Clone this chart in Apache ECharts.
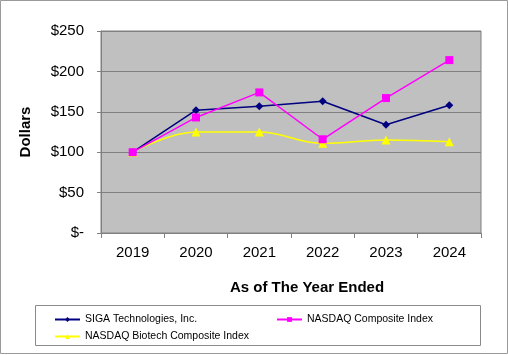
<!DOCTYPE html>
<html><head><meta charset="utf-8">
<script src="https://cdn.jsdelivr.net/npm/echarts@6/dist/echarts.min.js"></script>
<style>html,body{margin:0;padding:0;background:#fff}#c{width:508px;height:355px}</style>
</head><body><div id="c"></div>
<script>
const categories = ['2019','2020','2021','2022','2023','2024'];
const sigaValues = [100, 152, 157, 163, 134, 158];
const nasdaqValues = [100, 143, 174, 116, 167, 214];
const biotechValues = [100, 125, 125, 111, 115, 113];
const yTickLabels = {0:'$-',50:'$50',100:'$100',150:'$150',200:'$200',250:'$250'};
const seriesNames = ['SIGA Technologies, Inc.','NASDAQ Composite Index','NASDAQ Biotech Composite Index'];

const chart = echarts.init(document.getElementById('c'), null, {renderer:'canvas'});
const font = '"Liberation Sans", Arial, sans-serif';
chart.setOption({
  animation:false,
  backgroundColor:'#fff',
  graphic:[
    {type:'rect', shape:{x:0.5,y:0.5,width:507,height:353}, style:{fill:'none', stroke:'#9a9a9a', lineWidth:1}, silent:true},
    {type:'rect', shape:{x:35.5,y:305.5,width:445,height:40}, style:{fill:'#fff', stroke:'#8a8a8a', lineWidth:1}, silent:true, z:-1}
  ],
  grid:{left:101, right:27, top:31, bottom:122, show:true, backgroundColor:'#c0c0c0', borderColor:'#808080', borderWidth:1},
  legend:[
    {data:[seriesNames[0], seriesNames[2]], orient:'vertical', left:49, top:309, itemWidth:25, itemHeight:6, itemGap:6,
     textStyle:{fontFamily:font, fontSize:10.5, color:'#000'}},
    {data:[seriesNames[1]], orient:'vertical', left:271, top:309, itemWidth:25, itemHeight:6,
     textStyle:{fontFamily:font, fontSize:10.5, color:'#000'}}
  ],
  xAxis:{type:'category', data:categories, boundaryGap:true,
    name:'As of The Year Ended', nameLocation:'middle', nameGap:47,
    nameTextStyle:{fontFamily:font, fontSize:15, fontWeight:'bold', color:'#000', padding:[0,0,0,32]},
    axisLine:{lineStyle:{color:'#808080'}},
    axisTick:{show:true, length:5, lineStyle:{color:'#808080'}},
    axisLabel:{fontFamily:font, fontSize:15, color:'#000', margin:12}},
  yAxis:{type:'value', min:0, max:250, interval:50,
    name:'Dollars', nameLocation:'middle', nameGap:68, nameRotate:90,
    nameTextStyle:{fontFamily:font, fontSize:15, fontWeight:'bold', color:'#000'},
    axisLine:{show:true, lineStyle:{color:'#808080'}},
    axisTick:{show:true, length:4, lineStyle:{color:'#808080'}},
    splitLine:{lineStyle:{color:'#808080', width:1}},
    axisLabel:{fontFamily:font, fontSize:15, color:'#000', margin:17, formatter:v=>yTickLabels[v]}},
  series:[
    {name:seriesNames[0], type:'line', data:sigaValues, symbol:'diamond', symbolSize:8,
     itemStyle:{color:'#000080'}, lineStyle:{color:'#000080', width:1.5}, z:3},
    {name:seriesNames[1], type:'line', data:nasdaqValues, symbol:'rect', symbolSize:8,
     itemStyle:{color:'#ff00ff'}, lineStyle:{color:'#ff00ff', width:1.5}, z:4},
    {name:seriesNames[2], type:'line', data:biotechValues, symbol:'triangle', symbolSize:9, smooth:0.4,
     itemStyle:{color:'#ffff00'}, lineStyle:{color:'#ffff00', width:1.5}, z:2}
  ]
});
</script></body></html>
